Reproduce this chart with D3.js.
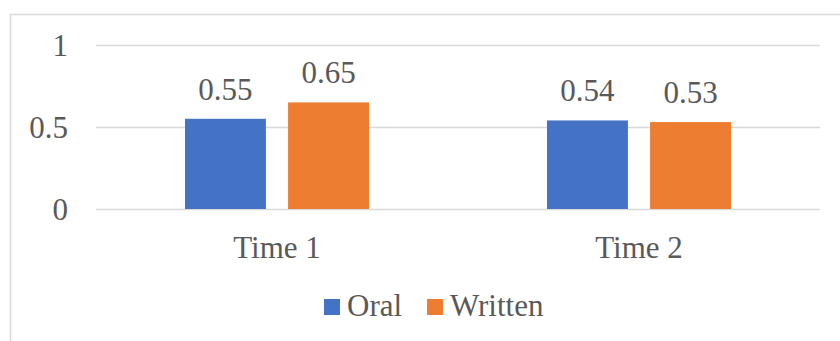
<!DOCTYPE html>
<html>
<head>
<meta charset="utf-8">
<script src="https://cdn.jsdelivr.net/npm/d3@7"></script>
<style>
  html, body { margin: 0; padding: 0; background: #fff; }
  svg { display: block; }
</style>
</head>
<body>
<svg id="chart" width="840" height="341"></svg>
<script>
// Chart data
const categories = ["Time 1", "Time 2"];
const seriesNames = ["Oral", "Written"];
const oralValues = [0.55, 0.54];
const writtenValues = [0.65, 0.53];
const yTicks = [0, 0.5, 1];
const colors = ["#4472C4", "#ED7D31"];

const seriesValues = [oralValues, writtenValues];
const rows = categories.map((c, i) => ({
  category: c,
  values: seriesNames.map((s, j) => ({ series: s, value: seriesValues[j][i] }))
}));

const W = 840, H = 341;
const plot = { left: 96, right: 820, top: 45, bottom: 209 };
const fontSize = 31;
const FONT = "'Liberation Serif', 'Times New Roman', serif";
const TEXT_COLOR = "#595959";

function textStyle(sel) {
  sel.style("font-family", FONT)
     .style("font-size", fontSize + "px")
     .style("fill", TEXT_COLOR);
}

const svg = d3.select("#chart");

// Chart frame (extends past the right and bottom edges)
svg.append("rect")
  .attr("x", 10.5).attr("y", 14.5)
  .attr("width", W + 20).attr("height", H + 20)
  .attr("fill", "none").attr("stroke", "#d9d9d9").attr("stroke-width", 1.5);

const x0 = d3.scaleBand().domain(categories).range([plot.left, plot.right]);
const x1 = d3.scaleBand().domain(seriesNames).range([0, 184]).paddingInner(0.215);
const y = d3.scaleLinear().domain([0, 1]).range([plot.bottom, plot.top]);
const color = d3.scaleOrdinal().domain(seriesNames).range(colors);

// Gridlines and value axis labels
const yAxis = d3.axisLeft(y).tickValues(yTicks).tickSize(-(plot.right - plot.left)).tickPadding(28)
  .tickFormat(d => d3.format("~g")(d));
const gy = svg.append("g").attr("transform", `translate(${plot.left},0)`).call(yAxis);
gy.select(".domain").remove();
gy.selectAll(".tick line").attr("stroke", "#d9d9d9").attr("stroke-width", 1.5);
gy.selectAll(".tick text").call(textStyle).attr("dy", "0.34em");

// Bars
const groups = svg.append("g").selectAll("g").data(rows).join("g")
  .attr("transform", d => `translate(${x0(d.category) + (x0.bandwidth() - 184) / 2},0)`);

groups.selectAll("rect").data(d => d.values).join("rect")
  .attr("x", d => x1(d.series))
  .attr("width", x1.bandwidth())
  .attr("y", d => y(d.value))
  .attr("height", d => y(0) - y(d.value))
  .attr("fill", d => color(d.series));

// Value labels
groups.selectAll("text").data(d => d.values).join("text")
  .attr("x", d => x1(d.series) + x1.bandwidth() / 2)
  .attr("y", d => y(d.value) - 19)
  .attr("text-anchor", "middle")
  .call(textStyle)
  .text(d => d3.format(".2f")(d.value));

// Category axis labels
const xAxis = d3.axisBottom(x0).tickSize(0).tickPadding(0);
const gx = svg.append("g").attr("transform", `translate(0,${plot.bottom})`).call(xAxis);
gx.select(".domain").remove();
gx.selectAll(".tick text").call(textStyle).attr("dy", null).attr("y", 49);

// Legend
const legendItems = [
  { name: seriesNames[0], x: 324 },
  { name: seriesNames[1], x: 427 }
];
const legend = svg.append("g").selectAll("g").data(legendItems).join("g")
  .attr("transform", d => `translate(${d.x},299)`);
legend.append("rect").attr("width", 16).attr("height", 16).attr("fill", d => color(d.name));
legend.append("text").attr("x", 23).attr("y", 16.5).call(textStyle).text(d => d.name);
</script>
</body>
</html>
